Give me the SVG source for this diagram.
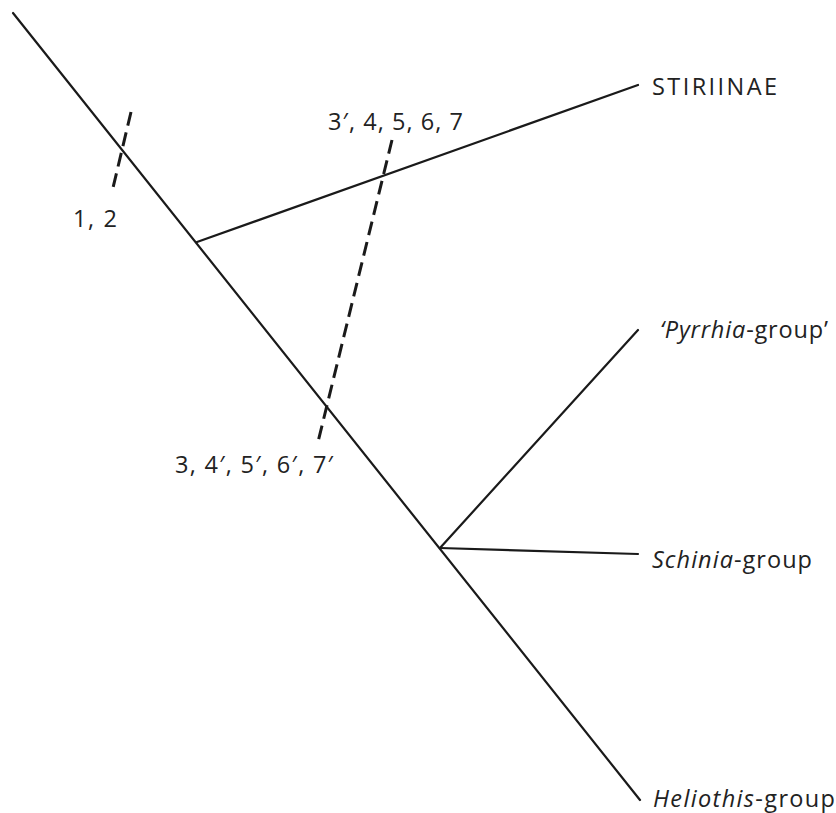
<svg xmlns="http://www.w3.org/2000/svg" width="836" height="813" viewBox="0 0 836 813">
  <style>
    .branch { stroke: #1a1a1a; stroke-width: 2.2; fill: none; stroke-linecap: round; }
    .char { stroke: #1a1a1a; stroke-width: 3; fill: none; stroke-dasharray: 14 7; }
    text { font-family: "Open Sans", "Noto Sans", "Liberation Sans", sans-serif; font-size: 23.5px; fill: #222; }
    .it { font-style: italic; }
  </style>
  <rect width="836" height="813" fill="#ffffff"/>

  <!-- tree branches -->
  <g id="connectors">
    <line class="branch" x1="13" y1="13" x2="640" y2="800"/>
    <line class="branch" x1="197" y1="242" x2="638" y2="85"/>
    <line class="branch" x1="440" y1="548" x2="638" y2="330"/>
    <line class="branch" x1="440" y1="548" x2="638" y2="554"/>
  </g>

  <!-- character-state bars -->
  <g id="characters">
    <line class="char" x1="131" y1="112" x2="112" y2="192" stroke-dasharray="14 7 14 7 14 7 14"/>
    <line class="char" x1="392" y1="140" x2="318" y2="442"/>
  </g>

  <g id="char-1-2">
    <text x="73" y="227" textLength="44" lengthAdjust="spacing">1, 2</text>
  </g>
  <g id="char-upper">
    <text x="328" y="130" textLength="135" lengthAdjust="spacing">3′, 4, 5, 6, 7</text>
  </g>
  <g id="char-lower">
    <text x="175" y="473" textLength="158" lengthAdjust="spacing">3, 4′, 5′, 6′, 7′</text>
  </g>

  <g id="stiriinae">
    <text x="652" y="95" textLength="125" lengthAdjust="spacing">STIRIINAE</text>
  </g>
  <g id="pyrrhia">
    <text x="660" y="338" textLength="168" lengthAdjust="spacing"><tspan class="it">‘Pyrrhia</tspan>-group’</text>
  </g>
  <g id="schinia">
    <text x="652" y="568" textLength="160" lengthAdjust="spacing"><tspan class="it">Schinia</tspan>-group</text>
  </g>
  <g id="heliothis">
    <text x="653" y="807" textLength="182" lengthAdjust="spacing"><tspan class="it">Heliothis</tspan>-group</text>
  </g>
</svg>
